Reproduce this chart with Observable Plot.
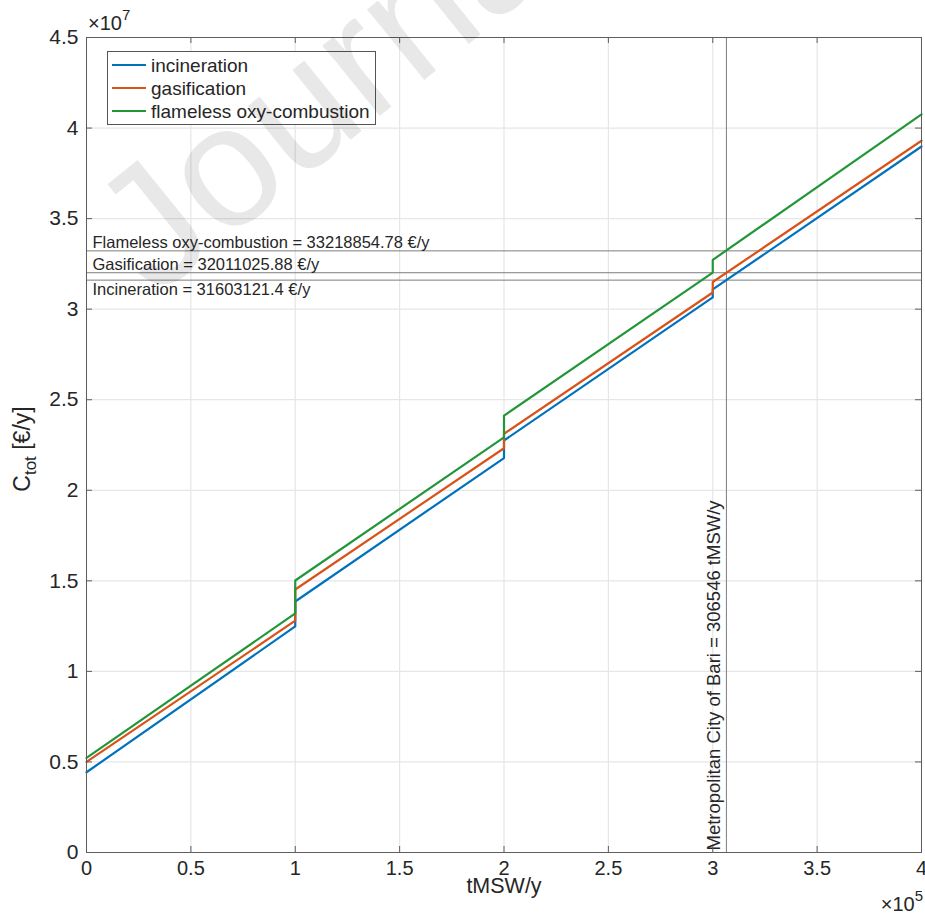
<!DOCTYPE html>
<html>
<head>
<meta charset="utf-8">
<script src="https://cdn.jsdelivr.net/npm/d3@7"></script>
<script src="https://cdn.jsdelivr.net/npm/@observablehq/plot@0.6"></script>
<style>
  html, body { margin: 0; padding: 0; background: #fff; }
  #chart svg { display: block; }
</style>
</head>
<body>
<div id="chart"></div>
<script>
// Annual total cost C_tot of each treatment route versus treated waste (tMSW/y).
// Each route is piecewise linear with a step where a new plant line is added.
const capacity = [0, 1e5, 1e5, 2e5, 2e5, 3e5, 3e5, 4e5];
const incineration = [0.443e7, 1.248e7, 1.386e7, 2.178e7, 2.275e7, 3.065e7, 3.109e7, 3.898e7];
const gasification = [0.500e7, 1.280e7, 1.452e7, 2.232e7, 2.312e7, 3.092e7, 3.150e7, 3.930e7];
const flameless    = [0.522e7, 1.320e7, 1.502e7, 2.292e7, 2.412e7, 3.202e7, 3.272e7, 4.075e7];

const seriesNames  = ["incineration", "gasification", "flameless oxy-combustion"];
const seriesColors = ["#0072BD", "#D95319", "#23963a"];

// Cost of each route at the waste production of the Metropolitan City of Bari
const refNames = ["Flameless oxy-combustion", "Gasification", "Incineration"];
const refCosts = [33218854.78, 32011025.88, 31603121.4];
const cityName = "Metropolitan City of Bari";
const cityTonnes = 306546;

const xTicks = [0, 0.5e5, 1e5, 1.5e5, 2e5, 2.5e5, 3e5, 3.5e5, 4e5];
const xTickLabels = ["0", "0.5", "1", "1.5", "2", "2.5", "3", "3.5", "4"];
const yTicks = [0, 0.5e7, 1e7, 1.5e7, 2e7, 2.5e7, 3e7, 3.5e7, 4e7, 4.5e7];
const yTickLabels = ["0", "0.5", "1", "1.5", "2", "2.5", "3", "3.5", "4", "4.5"];

// ---- layout ----
const W = 925, H = 914;
const M = {left: 86, right: 4, top: 37, bottom: 62};
const frameW = W - M.left - M.right;
const frameH = H - M.top - M.bottom;
const FONT = "'Liberation Sans', Arial, Helvetica, sans-serif";
const INK = "#262626";
const AXIS = "#5e5e5e";
const TICK = 6;

const seriesValues = [incineration, gasification, flameless];
const rows = seriesNames.flatMap((name, i) =>
  capacity.map((x, j) => ({series: name, x, cost: seriesValues[i][j]})));

const refLabels = refNames.map((n, i) => ({cost: refCosts[i], text: `${n} = ${refCosts[i]} €/y`}));

const plot = Plot.plot({
  width: W,
  height: H,
  marginLeft: M.left,
  marginRight: M.right,
  marginTop: M.top,
  marginBottom: M.bottom,
  style: {fontFamily: FONT, fontSize: "20px", color: INK, background: "#fff", overflow: "visible"},
  x: {domain: [0, 4e5]},
  y: {domain: [0, 4.5e7]},
  color: {domain: seriesNames, range: seriesColors},
  marks: [
    Plot.gridX(xTicks, {stroke: "#e6e6e6", strokeOpacity: 1, strokeWidth: 1.2}),
    Plot.gridY(yTicks, {stroke: "#e6e6e6", strokeOpacity: 1, strokeWidth: 1.2}),

    // reference lines at the Bari waste production
    Plot.ruleY(refCosts, {stroke: "#7d7d7d", strokeWidth: 1}),
    Plot.ruleX([cityTonnes], {stroke: "#7d7d7d", strokeWidth: 1}),
    Plot.text(refLabels.slice(0, 2), {
      y: "cost", text: "text", frameAnchor: "left", textAnchor: "start",
      lineAnchor: "bottom", dx: 6, dy: -3, fontSize: 16.5, fill: INK
    }),
    Plot.text(refLabels.slice(2), {
      y: "cost", text: "text", frameAnchor: "left", textAnchor: "start",
      lineAnchor: "top", dx: 6, dy: 3, fontSize: 16.5, fill: INK
    }),
    Plot.text([cityTonnes], {
      x: d => d, frameAnchor: "bottom", rotate: -90, textAnchor: "start",
      lineAnchor: "middle", text: d => `${cityName} = ${d} tMSW/y`,
      dx: -12, dy: -2, fontSize: 18.5, fill: INK
    }),

    // cost curves
    Plot.line(rows, {x: "x", y: "cost", z: "series", stroke: "series", strokeWidth: 2.2}),

    // box and inward ticks on all four sides
    Plot.frame({stroke: AXIS, strokeWidth: 1}),
    Plot.tickX(xTicks, {x: d => d, insetTop: frameH - TICK, stroke: AXIS}),
    Plot.tickX(xTicks, {x: d => d, insetBottom: frameH - TICK, stroke: AXIS}),
    Plot.tickY(yTicks, {y: d => d, insetRight: frameW - TICK, stroke: AXIS}),
    Plot.tickY(yTicks, {y: d => d, insetLeft: frameW - TICK, stroke: AXIS}),

    Plot.axisX(xTicks, {
      tickSize: 0, tickPadding: 8, fontSize: 20, fill: INK, label: null,
      tickFormat: d => xTickLabels[xTicks.indexOf(d)]
    }),
    Plot.axisY(yTicks, {
      tickSize: 0, tickPadding: 8, fontSize: 21, fill: INK, label: null,
      tickFormat: d => yTickLabels[yTicks.indexOf(d)]
    }),
    Plot.text(["tMSW/y"], {
      text: d => d, frameAnchor: "bottom", dy: 40, fontSize: 21.5, fill: INK
    })
  ]
});

document.getElementById("chart").appendChild(plot);

const svg = d3.select(plot);

// y-axis title with subscript
const yTitle = svg.append("text")
  .attr("transform", "translate(30,449) rotate(-90)")
  .attr("text-anchor", "middle")
  .attr("font-family", FONT)
  .attr("font-size", 23)
  .attr("fill", INK);
yTitle.append("tspan").text("C");
yTitle.append("tspan").attr("font-size", 17).attr("dy", 6).text("tot");
yTitle.append("tspan").attr("dy", -6).text(" [€/y]");

// exponent multipliers
function multiplier(x, y, exp, anchor) {
  const t = svg.append("text")
    .attr("x", x).attr("y", y)
    .attr("text-anchor", anchor)
    .attr("font-family", FONT)
    .attr("font-size", 20)
    .attr("fill", INK);
  t.append("tspan").text("×10");
  t.append("tspan").attr("font-size", 15).attr("dy", -10).text(exp);
}
multiplier(88, 30, "7", "start");
multiplier(923, 911, "5", "end");

// legend
const legend = svg.append("g")
  .attr("font-family", FONT).attr("font-size", 19).attr("fill", INK)
  .attr("text-anchor", "start");
legend.append("rect")
  .attr("x", 107.5).attr("y", 51.5).attr("width", 268).attr("height", 73)
  .attr("fill", "#fff").attr("stroke", "#555").attr("stroke-width", 1);
seriesNames.forEach((name, i) => {
  const cy = 65 + i * 23;
  legend.append("line")
    .attr("x1", 112).attr("x2", 146).attr("y1", cy).attr("y2", cy)
    .attr("stroke", seriesColors[i]).attr("stroke-width", 2.2);
  legend.append("text")
    .attr("x", 151).attr("y", cy).attr("dy", "0.35em")
    .attr("text-anchor", "start")
    .text(name);
});

// faint watermark across the top-left of the page
svg.append("text")
  .attr("transform", "translate(155,298) rotate(-39)")
  .attr("text-anchor", "start")
  .attr("font-family", FONT)
  .attr("font-size", 172)
  .attr("fill", "#000")
  .attr("fill-opacity", 0.09)
  .attr("pointer-events", "none")
  .text("Journal Pre-proof");
</script>
</body>
</html>
